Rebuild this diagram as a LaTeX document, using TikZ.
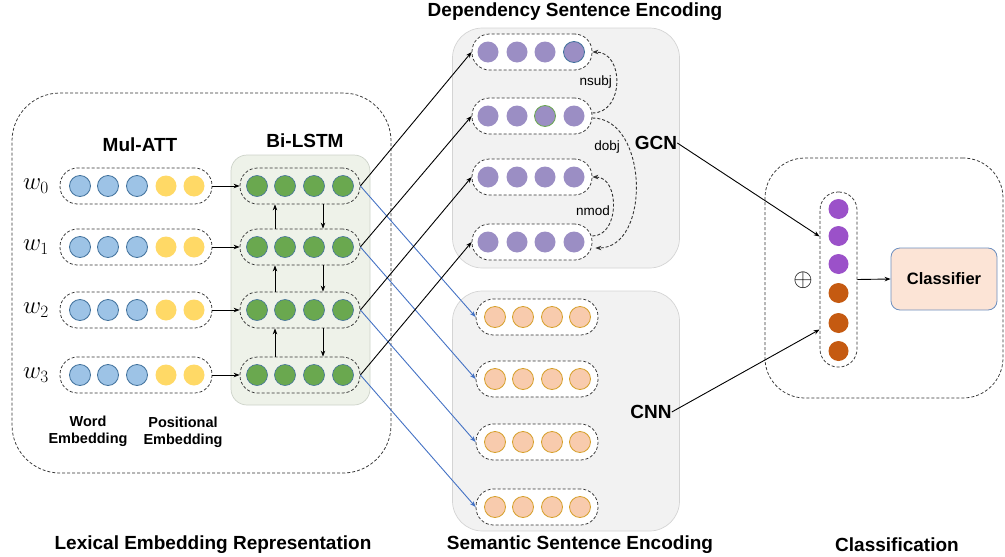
\documentclass[tikz,border=0pt]{standalone}
\usepackage{fontspec}
\setmainfont{Liberation Sans}
\usetikzlibrary{arrows.meta,calc}
\definecolor{bluefill}{HTML}{9DC3E6}
\definecolor{blueedge}{HTML}{41719C}
\definecolor{yellowfill}{HTML}{FFD966}
\definecolor{greenfill}{HTML}{6AA84F}
\definecolor{purplefill}{HTML}{9B8EC4}
\definecolor{orangefill}{HTML}{F8CBAD}
\definecolor{orangeedge}{HTML}{D6A02A}
\definecolor{catpurple}{HTML}{9B51C9}
\definecolor{catorange}{HTML}{C55A11}
\definecolor{graybg}{HTML}{F2F2F2}
\definecolor{grayedge}{HTML}{D4D4D4}
\definecolor{lstmbg}{HTML}{EEF2E9}
\definecolor{lstmedge}{HTML}{CCD2C8}
\definecolor{clsfill}{HTML}{FCE4D6}
\definecolor{clsedge}{HTML}{6C8EBF}
\definecolor{arrblue}{HTML}{4472C4}
\begin{document}
\begin{tikzpicture}[x=1pt,y=-1pt,
  dsh/.style={draw=black!80, dash pattern=on 3pt off 2pt, line width=0.75pt},
  capsule/.style={dsh, rounded corners=17.5pt, minimum height=36pt, inner sep=0pt},
  dot/.style={circle, minimum size=21pt, inner sep=0pt},
  bdot/.style={dot, fill=bluefill, draw=blueedge, line width=0.8pt},
  ydot/.style={dot, fill=yellowfill},
  gdot/.style={dot, fill=greenfill, draw=blueedge, line width=0.6pt},
  pdot/.style={dot, fill=purplefill},
  odot/.style={dot, fill=orangefill, draw=orangeedge, line width=0.8pt},
  arr/.style={-{Stealth[length=6pt,width=4.5pt]}, line width=0.9pt},
  title/.style={font=\fontsize{19}{21}\selectfont\bfseries, inner sep=0pt},
  big/.style={font=\fontsize{19}{22}\selectfont\bfseries, inner sep=0pt},
  small/.style={font=\fontsize{14.5}{17}\selectfont\bfseries, inner sep=0pt, align=center},
  rel/.style={font=\fontsize{13.5}{15}\selectfont, inner sep=0pt}
]
\useasboundingbox (0,0) rectangle (1005,557);

% containers
\node[dsh, rounded corners=48pt, minimum width=379pt, minimum height=380pt] (lexbox) at (201.5,283) {};
\node[draw=lstmedge, fill=lstmbg, rounded corners=16pt, minimum width=139pt, minimum height=250pt, line width=0.7pt] (lstmbox) at (300.5,280) {};
\node[draw=grayedge, fill=graybg, rounded corners=30pt, minimum width=227pt, minimum height=240pt, line width=0.7pt] (gcnbox) at (566,148) {};
\node[draw=grayedge, fill=graybg, rounded corners=30pt, minimum width=227pt, minimum height=240pt, line width=0.7pt] (cnnbox) at (566,411) {};
\node[dsh, rounded corners=40pt, minimum width=238pt, minimum height=240pt] (clsbox) at (884,278) {};

% titles
\node[title] (t1) at (213,545) {Lexical Embedding Representation};
\node[title] (t2) at (580,545) {Semantic Sentence Encoding};
\node[title] (t3) at (897,545) {Classification};
\node[title] (t4) at (575,12) {Dependency Sentence Encoding};
\node[big] (mulatt) at (140,145) {Mul-ATT};
\node[big] (bilstm) at (305,141) {Bi-LSTM};
\node[big] (gcnlbl) at (656,143) {GCN};
\node[big] (cnnlbl) at (651,412) {CNN};
\node[small] (we) at (88,431) {Word\\Embedding};
\node[small] (pe) at (183,432) {Positional\\Embedding};

% word rows
\foreach \i/\y in {0/186,1/247,2/310,3/375} {
  \node[inner sep=0pt] (w\i) at (36,\y) {\fontsize{24}{26}\selectfont$w_{\i}$};
  \node[capsule, minimum width=152pt, fill=white] (m\i) at (136,\y) {};
  \foreach \x in {80,108,137} \node[bdot] at (\x,\y) {};
  \foreach \x in {166,194} \node[ydot] at (\x,\y) {};
  \node[capsule, minimum width=120pt] (l\i) at (300,\y) {};
  \foreach \x in {257,285,314,343} \node[gdot] at (\x,\y) {};
  \draw[arr] (m\i.east) -- (l\i.west);
}
\coordinate (upx) at (275,0);
\coordinate (dnx) at (323,0);
\foreach \a/\b in {1/0,2/1,3/2} {
  \draw[arr] (l\a.north -| upx) -- (l\b.south -| upx);
  \draw[arr] (l\b.south -| dnx) -- (l\a.north -| dnx);
}

% GCN rows
\foreach \i/\y in {0/52,1/116,2/177,3/242} {
  \node[capsule, minimum width=120pt, fill=white] (g\i) at (532,\y) {};
  \foreach \x in {488,517,545,574} \node[pdot] at (\x,\y) {};
}
\node[dot, draw=blueedge, line width=0.8pt] at (574,52) {};
\node[dot, draw=greenfill, line width=0.8pt] at (545,116) {};

% CNN rows
\foreach \i/\y in {0/317,1/379,2/442,3/507} {
  \node[capsule, minimum width=122pt, fill=white] (c\i) at (537,\y) {};
  \foreach \x in {495,523,552,580} \node[odot] at (\x,\y) {};
}

% connections LSTM -> GCN / CNN
\foreach \i in {0,1,2,3} {
  \draw[arr] (l\i.east) -- (g\i.west);
  \draw[arr, draw=arrblue, -{Stealth[length=6pt,width=4.5pt,fill=arrblue]}] (l\i.east) -- (c\i.west);
}

% dependency arcs
\draw[dsh, arr] ($(g1.east)+(0,-3)$) to[out=0, in=0, looseness=1.35] (g0.east);
\draw[dsh, arr] ($(g1.east)+(0,2)$) to[out=0, in=0, looseness=1.1] ($(g3.east)+(3,6)$);
\draw[dsh, arr] ($(g3.east)+(0,-6)$) to[out=0, in=0, looseness=1.2] (g2.east);
\node[rel, anchor=east] (nsubj) at (612,82) {nsubj};
\node[rel, anchor=east] (dobj) at (620,147) {dobj};
\node[rel, anchor=east] (nmod) at (610,211) {nmod};

% classification
\node[dsh, rounded corners=18pt, minimum width=37pt, minimum height=175pt, inner sep=0pt] (cat) at (838.5,279.5) {};
\foreach \y in {209,236,264} \node[dot, fill=catpurple, minimum size=20pt] at (838.5,\y) {};
\foreach \y in {293,323,351} \node[dot, fill=catorange, minimum size=20pt] at (838.5,\y) {};
\node[inner sep=0pt] (oplus) at (803,280) {\fontsize{27}{29}\selectfont$\oplus$};
\node[draw=clsedge, fill=clsfill, rounded corners=9pt, minimum width=106pt, minimum height=62pt, line width=0.8pt, font=\fontsize{16.5}{18}\selectfont\bfseries] (cls) at (944,279) {Classifier};
\draw[arr] (cat.east) -- (cls.west);
\draw[arr] (gcnlbl.east) -- ($(cat.west)+(0,-43)$);
\draw[arr] (cnnlbl.east) -- ($(cat.west)+(0,50)$);
\end{tikzpicture}
\end{document}
